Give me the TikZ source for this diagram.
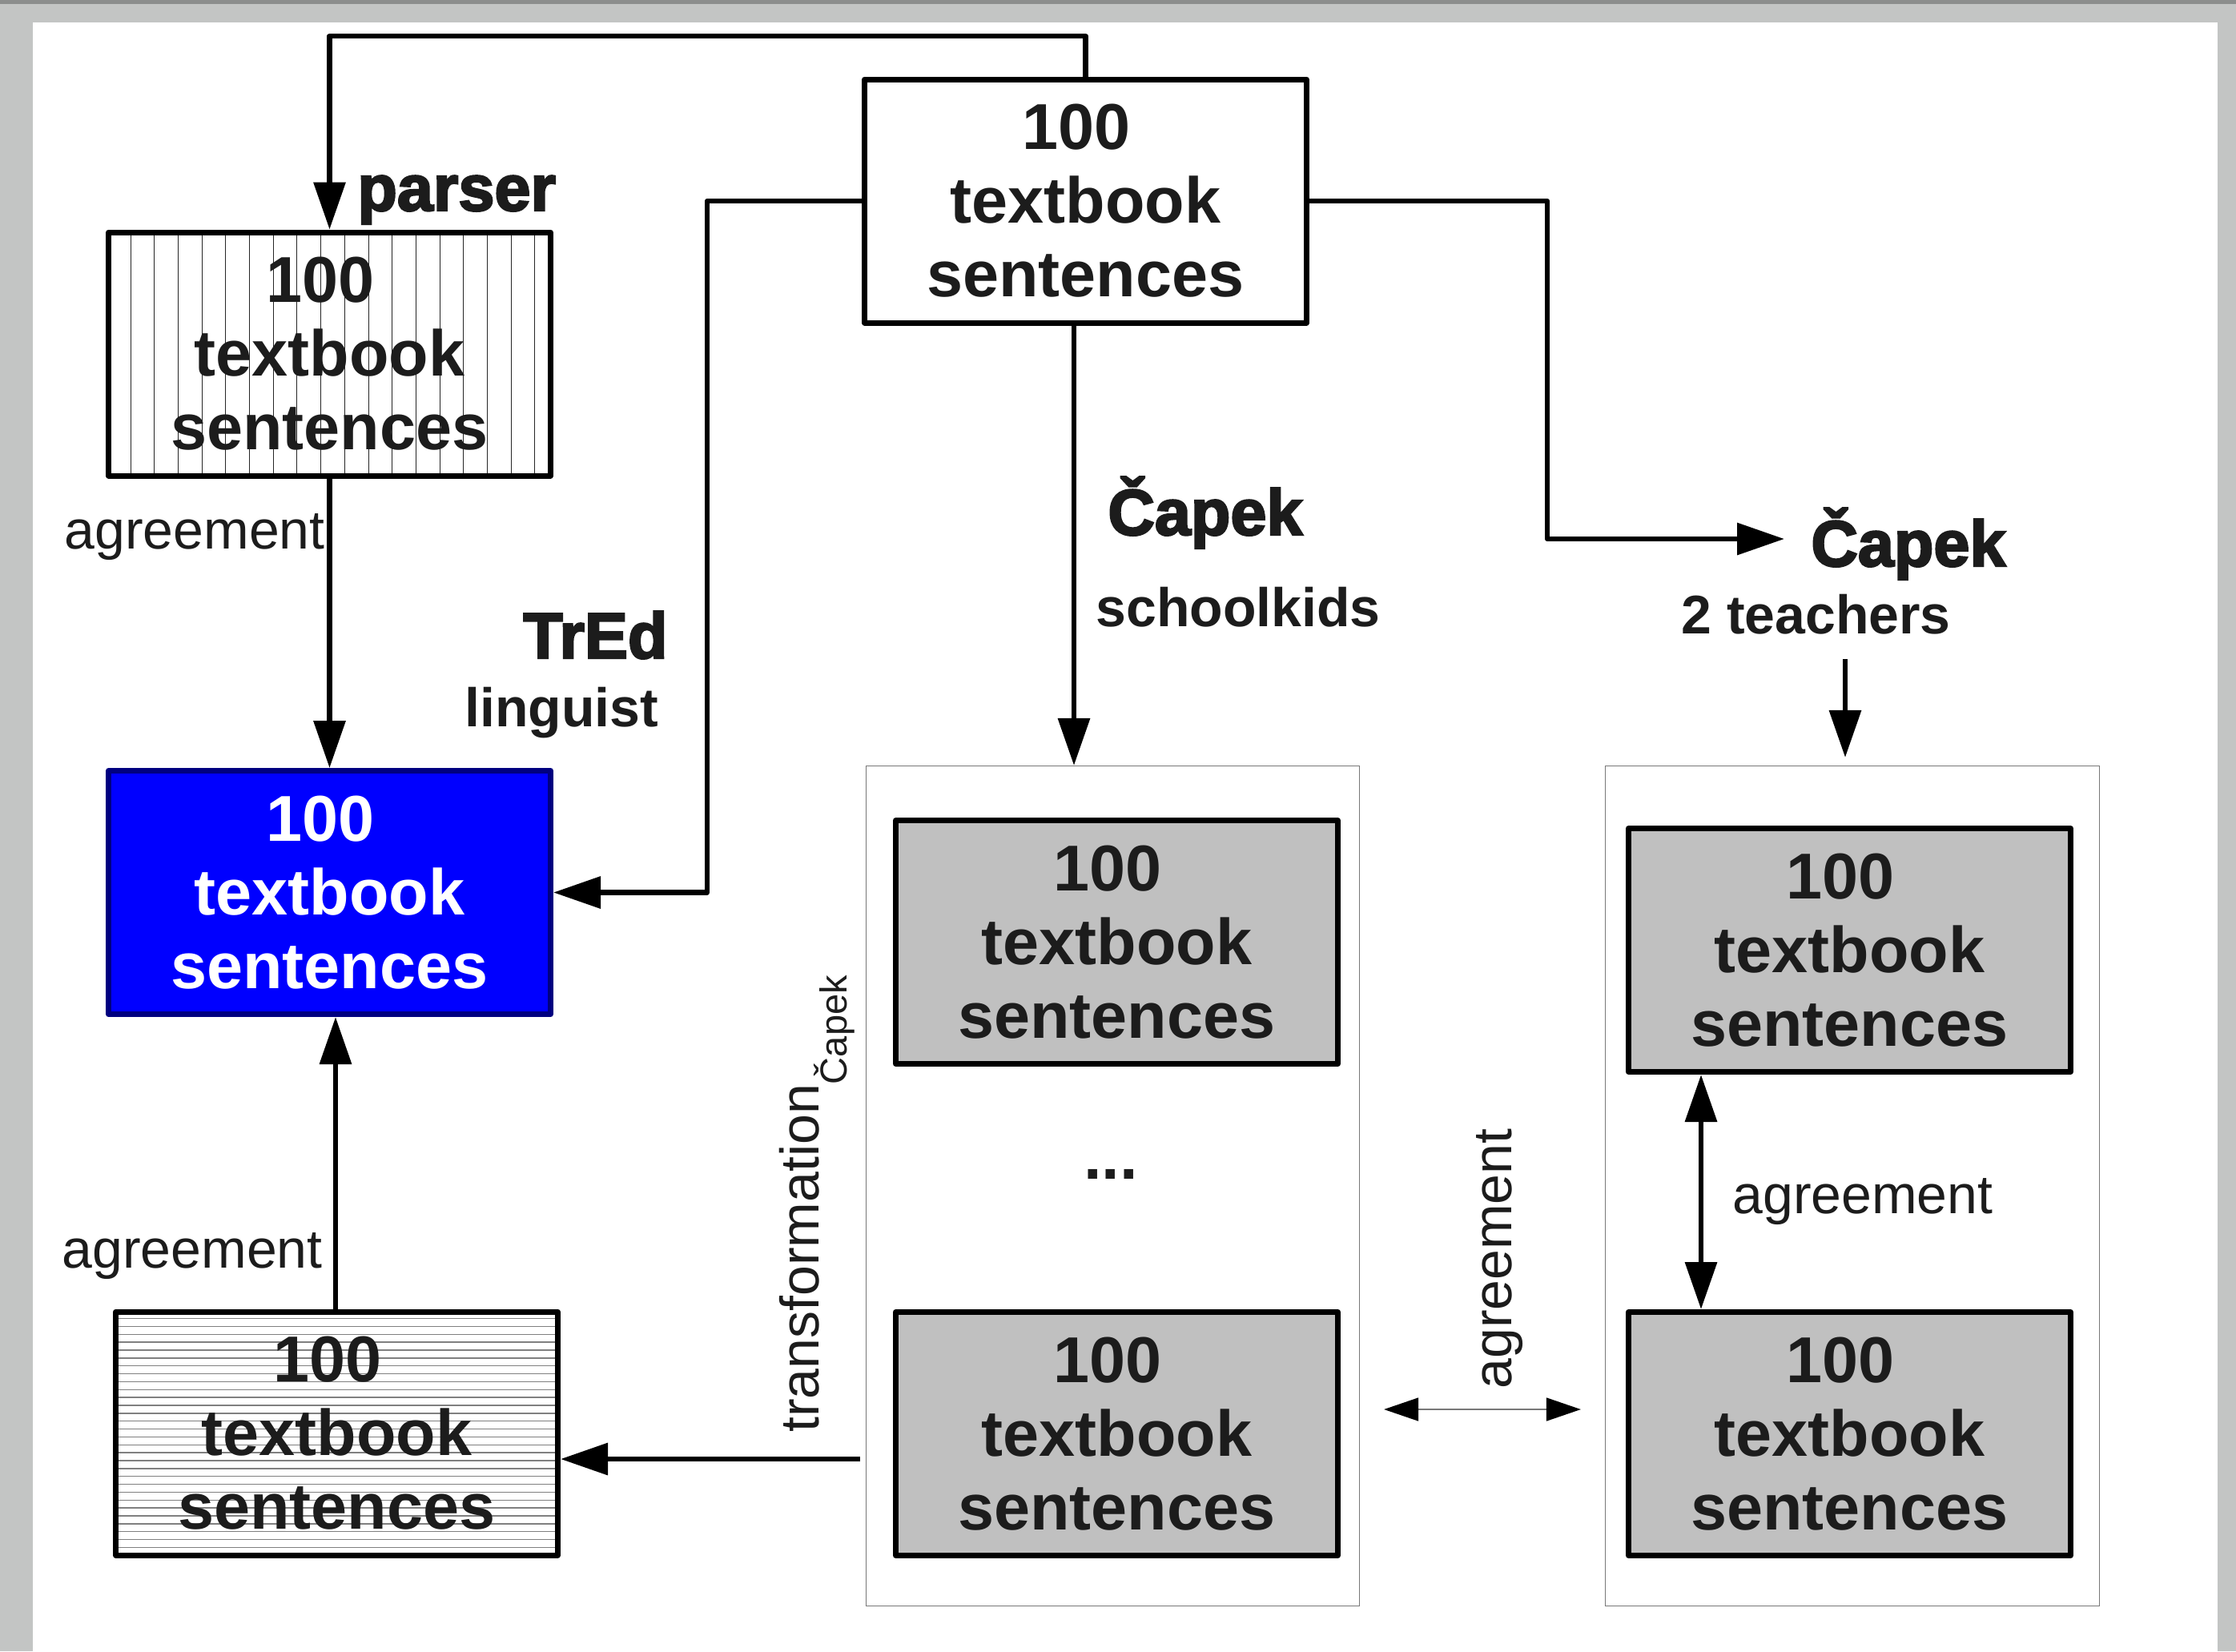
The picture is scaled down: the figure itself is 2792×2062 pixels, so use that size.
\documentclass[tikz,border=0pt]{standalone}
\usepackage{fontspec}
\setmainfont{Liberation Sans}
\newfontfamily\shfont{Liberation Sans}[BoldFeatures={FakeBold=3}]
\usetikzlibrary{arrows.meta,calc}
\definecolor{txt}{RGB}{28,28,28}
\definecolor{framegray}{RGB}{195,197,196}
\definecolor{framedark}{RGB}{140,142,141}
\definecolor{boxgray}{RGB}{192,192,192}
\definecolor{navyb}{RGB}{0,0,128}
\definecolor{contgray}{RGB}{120,120,120}
\newcommand\fBox{\fontsize{40.5pt}{46pt}\selectfont\bfseries}
\newcommand\fMid{\fontsize{34pt}{40pt}\selectfont\bfseries}
\newcommand\fReg{\fontsize{34pt}{40pt}\selectfont}
\newcommand\fSub{\fontsize{23.5pt}{28pt}\selectfont}
\newcommand\fShad{\shfont\fontsize{40.5pt}{46pt}\selectfont\bfseries}
\newcommand\tbs{100\rule{11.25pt}{0pt}\\textbook\\sentences}
\begin{document}
\begin{tikzpicture}[x=0.5pt,y=-0.5pt,
  every node/.style={inner sep=0pt},
  tbox/.style={draw=black, line width=3.5pt, line join=round, minimum width=276pt, minimum height=152pt,
    align=center, text=txt, font=\fBox},
  whitebox/.style={tbox, fill=white},
  graybox/.style={tbox, fill=boxgray},
  bluebox/.style={tbox, draw=navyb, fill=blue, text=white},
  vh/.style={line width=0.5pt, black!85},
  hh/.style={line width=0.7pt, black!50},
  vhatch/.style={tbox, fill=white, path picture={
      \foreach \k in {0,...,17}
        \draw[vh] ($(path picture bounding box.north west)+(27.5+\k*29.7,-10)$) -- ++(0,400);}},
  hhatch/.style={tbox, fill=white, path picture={
      \foreach \k in {0,...,31}
        \draw[hh] ($(path picture bounding box.north west)+(-10,8.5+\k*9.86)$) -- ++(620,0);}},
  contbox/.style={draw=contgray, line width=0.6pt, fill=white, minimum height=524.5pt},
  conn/.style={line width=3.25pt, line join=round, black},
  arr/.style={conn, -{Triangle[length=29.5pt,width=19.5pt]}},
  darr/.style={conn, {Triangle[length=29.5pt,width=19.5pt]}-{Triangle[length=29.5pt,width=19.5pt]}},
  thinarr/.style={line width=0.75pt, contgray,
    {Triangle[length=21.5pt,width=14.5pt,color=black]}-{Triangle[length=21.5pt,width=14.5pt,color=black]}},
  shlbl/.style={font=\fShad, text=txt},
  midlbl/.style={font=\fMid, text=txt},
  reglbl/.style={font=\fReg, text=txt}
]
% frame
\fill[framegray] (0,0) rectangle (2792,2062);
\fill[framedark] (0,0) rectangle (2792,5);
\fill[white] (41,28) rectangle (2769,2062);
\useasboundingbox (0,0) rectangle (2792,2062);

% containers
\node[contbox, minimum width=308pt] (C1) at (1389.5,1481) {};
\node[contbox, minimum width=308.5pt] (C2) at (2313,1481) {};

% boxes
\node[whitebox] (T) at (1355.5,251) {\tbs};
\node[vhatch] (P) at (411.5,442) {\tbs};
\node[bluebox] (B) at (411.5,1114.5) {\tbs};
\node[hhatch] (H) at (420.5,1790) {\tbs};
\node[graybox] (M1) at (1394.5,1176.5) {\tbs};
\node[graybox] (M2) at (1394.5,1790.5) {\tbs};
\node[graybox] (R1) at (2309.5,1186.5) {\tbs};
\node[graybox] (R2) at (2309.5,1790.5) {\tbs};
\node[font=\fBox, text=txt, anchor=base] (dots) at (1387,1472) {...};

% helper coordinates
\coordinate (topy) at (0,45);
\coordinate (lx) at (883,0);
\coordinate (rx) at (1932,0);
\coordinate (capR) at (2228,673);
\coordinate (sx) at (1341,0);
\coordinate (ux) at (419,0);
\coordinate (tstart) at (1074,1822);
\coordinate (tdx) at (2304,823);
\coordinate (rax) at (2124,0);
\coordinate (hy) at (0,1760);

% connectors
\draw[arr] (T.north) -- (T.north |- topy) -| (P.north);
\draw[arr] (T.west) -| (lx |- B.east) -- (B.east);
\draw[arr] (T.east) -| (rx |- capR) -- (capR);
\draw[arr] (T.south -| sx) -- (C1.north -| sx);
\draw[arr] (P.south) -- (B.north);
\draw[arr] (H.north -| ux) -- (B.south -| ux);
\draw[arr] (tstart) -- (H.east |- tstart);
\draw[arr, shorten >=5pt] (tdx) -- (C2.north -| tdx);
\draw[darr] (R1.south -| rax) -- (R2.north -| rax);
\draw[thinarr, shorten <=15pt, shorten >=15pt] (C1.east |- hy) -- (C2.west |- hy);

% labels
\node[shlbl, anchor=base west] (lparser) at (446,263) {parser};
\node[reglbl, anchor=base east] (lag1) at (406,685) {agreement};
\node[shlbl, anchor=base west] (ltred) at (653,822) {TrEd};
\node[midlbl, anchor=base west] (lling) at (580,907) {linguist};
\node[shlbl, anchor=base west] (lcap1) at (1383,668) {Čapek};
\node[midlbl, anchor=base west] (lschool) at (1368,782) {schoolkids};
\node[shlbl, anchor=base west] (lcap2) at (2261,707) {Čapek};
\node[midlbl, anchor=base west] (lteach) at (2099,791) {2 teachers};
\node[reglbl, anchor=base east] (lag2) at (403,1583) {agreement};
\node[reglbl, anchor=base west] (lag3) at (2163,1515) {agreement};
\node[reglbl, anchor=base, rotate=90] (lag4) at (1887,1572) {agreement};
\node[reglbl, anchor=base west, rotate=90] (ltrans) at (1022,1789) {transformation\raisebox{-17.5pt}{\fSub Čapek}};
\end{tikzpicture}
\end{document}
